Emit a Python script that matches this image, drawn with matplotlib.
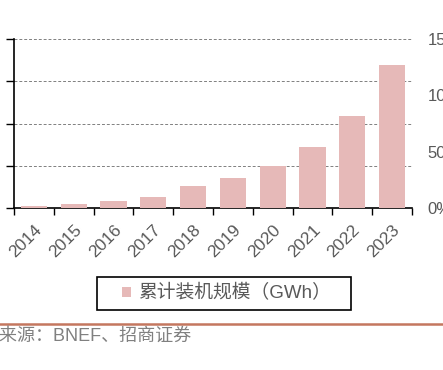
import matplotlib
matplotlib.use("Agg")
import matplotlib.pyplot as plt
from matplotlib.lines import Line2D
from matplotlib.patches import Patch, Rectangle

plt.rcParams['font.family'] = ['Liberation Sans', 'Noto Sans CJK SC', 'DejaVu Sans']

years = ['2014', '2015', '2016', '2017', '2018', '2019', '2020', '2021', '2022', '2023']
capacity = [2.6, 4.7, 8, 13.5, 26, 35, 50, 72, 109, 169]
left_ticks = [0, 50, 100, 150, 200]
right_ticks = [0, 0.5, 1.0, 1.5]
right_labels = ['0%', '50%', '100%', '150%']
legend_label = '累计装机规模（GWh）'
source = '资料来源：BNEF、招商证券'

W, H = 443, 370
fig = plt.figure(figsize=(W / 100, H / 100), dpi=100)

x0, x1, y0, y1 = 14, 412, 39, 208
ax = fig.add_axes([x0 / W, 1 - y1 / H, (x1 - x0) / W, (y1 - y0) / H])
xs = list(range(len(years)))
ax.bar(xs, capacity, width=0.66, color='#E6B9B8', zorder=3)
ax.set_xlim(-0.5, len(years) - 0.5)
ax.set_ylim(left_ticks[0], left_ticks[-1])
ax.set_yticks(left_ticks)
ax.set_yticklabels([])
ax.yaxis.grid(True, linestyle=(0, (3, 2)), color='#808080', linewidth=0.7, zorder=0)
ax.set_xticks([i - 0.5 for i in range(len(years) + 1)], minor=False)
ax.set_xticklabels([])
ax.set_xticks(xs, minor=True)
ax.set_xticklabels(years, minor=True, rotation=45, ha='right', va='top',
                   rotation_mode='anchor', fontsize=12.5, color='#595959')
ax.tick_params(axis='x', which='major', direction='out', length=5, width=1, color='black')
ax.tick_params(axis='x', which='minor', length=0, pad=10)
ax.tick_params(axis='y', direction='out', length=6, width=1, color='black')
for s in ['top', 'right']:
    ax.spines[s].set_visible(False)
for s in ['left', 'bottom']:
    ax.spines[s].set_color('black')
    ax.spines[s].set_linewidth(1.2)

ax2 = ax.twinx()
ax2.set_ylim(0, 1.5)
ax2.set_yticks(right_ticks)
ax2.set_yticklabels(right_labels, fontsize=12, color='#595959')
ax2.tick_params(axis='y', length=0, pad=11)
for s in ax2.spines.values():
    s.set_visible(False)

# legend frame
lx0, lx1, ly0, ly1 = 97, 351, 277, 310
fig.add_artist(Rectangle((lx0 / W, 1 - ly1 / H), (lx1 - lx0) / W, (ly1 - ly0) / H,
                         transform=fig.transFigure, facecolor='white', edgecolor='black',
                         linewidth=1.2))
handle = Patch(facecolor='#E6B9B8', edgecolor='none')
leg = fig.legend([handle], [legend_label], loc='center left',
                 bbox_to_anchor=(122 / W, 1 - 293.5 / H), frameon=False,
                 fontsize=13.5, handlelength=0.5, handleheight=0.5, handletextpad=0.35,
                 borderpad=0, borderaxespad=0)
for t in leg.get_texts():
    t.set_color('#595959')

fig.add_artist(Line2D([0, 1], [1 - 323.5 / H, 1 - 323.5 / H], color='#C4775F', linewidth=1.8))
fig.text(-37 / W, 1 - 336 / H, source, fontsize=13, color='#808080', ha='left', va='center')

fig.savefig('out.png', dpi=100)
